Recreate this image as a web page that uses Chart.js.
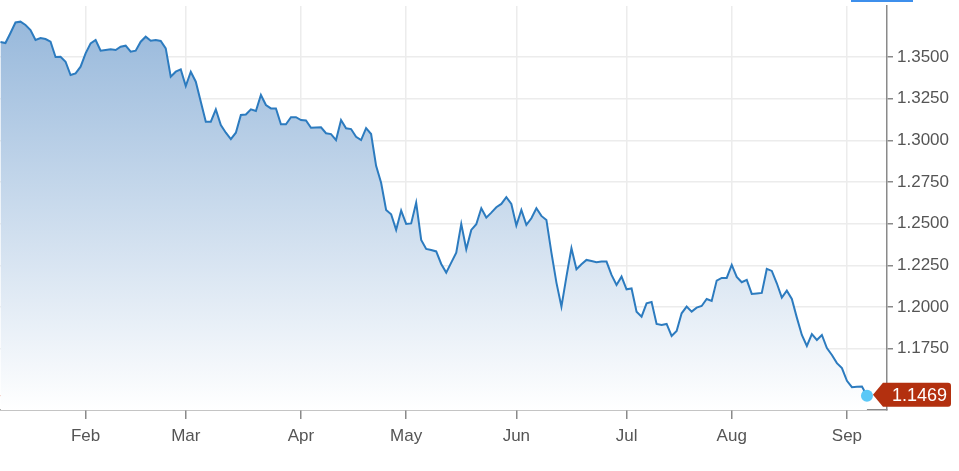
<!DOCTYPE html>
<html>
<head>
<meta charset="utf-8">
<script src="https://cdn.jsdelivr.net/npm/chart.js@4.4.1/dist/chart.umd.min.js"></script>
<style>
  html, body { margin: 0; padding: 0; background: #fff; }
  #wrap { position: relative; width: 959px; height: 471px; }
  #tab { position: absolute; left: 851px; top: 0; width: 62px; height: 2px; background: #3d8fec; }
</style>
</head>
<body>
<div id="wrap">
  <canvas id="fxChart" width="959" height="471"></canvas>
  <div id="tab"></div>
</div>
<script>
// GBP/USD daily closes, one per trading day (7 Jan .. 7 Sep)
const rates = [
  1.3590, 1.3584, 1.3644, 1.3707, 1.3712, 1.3692, 1.3662, 1.3602, 1.3614, 1.3608,
  1.3592, 1.3500, 1.3502, 1.3472, 1.3392, 1.3402, 1.3442, 1.3522, 1.3582, 1.3602,
  1.3538, 1.3542, 1.3546, 1.3542, 1.3562, 1.3568, 1.3532, 1.3538, 1.3592, 1.3622,
  1.3598, 1.3602, 1.3596, 1.3552, 1.3382, 1.3412, 1.3426, 1.3326, 1.3412, 1.3352,
  1.3232, 1.3112, 1.3112, 1.3186, 1.3092, 1.3046, 1.3008, 1.3046, 1.3152, 1.3155,
  1.3186, 1.3176, 1.3272, 1.3212, 1.3192, 1.3192, 1.3097, 1.3097, 1.3139, 1.3139,
  1.3122, 1.3119, 1.3076, 1.3077, 1.3078, 1.3043, 1.3038, 1.3002, 1.3122, 1.3073,
  1.3068, 1.3022, 1.3002, 1.3073, 1.3038, 1.2847, 1.2746, 1.2583, 1.2557, 1.2463,
  1.2579, 1.2499, 1.2502, 1.2627, 1.2403, 1.2349, 1.2343, 1.2334, 1.2259, 1.2207,
  1.2267, 1.2327, 1.2499, 1.2347, 1.2463, 1.2497, 1.2593, 1.2537, 1.2567, 1.2599,
  1.2619, 1.2659, 1.2619, 1.2489, 1.2583, 1.2493, 1.2533, 1.2593, 1.2547, 1.2523,
  1.2327, 1.2147, 1.2003, 1.2183, 1.2353, 1.2227, 1.2257, 1.2283, 1.2277, 1.2269,
  1.2273, 1.2273, 1.2193, 1.2133, 1.2183, 1.2107, 1.2112, 1.1973, 1.1943, 1.2023,
  1.2031, 1.1899, 1.1893, 1.1899, 1.1827, 1.1857, 1.1963, 1.2003, 1.1973, 1.1997,
  1.2007, 1.2049, 1.2037, 1.2159, 1.2175, 1.2175, 1.2253, 1.2181, 1.2149, 1.2163,
  1.2079, 1.2082, 1.2085, 1.2229, 1.2217, 1.2143, 1.2057, 1.2099, 1.2049, 1.1937,
  1.1833, 1.1767, 1.1838, 1.1803, 1.1833, 1.1754, 1.1713, 1.1664, 1.1634, 1.1558,
  1.1520, 1.1522, 1.1524, 1.1469
];

// x axis: month names and the trading-day index where each month starts
const monthLabels = ['Feb', 'Mar', 'Apr', 'May', 'Jun', 'Jul', 'Aug', 'Sep'];
const monthStarts = [17, 37, 60, 81, 103, 125, 146, 169];

// y axis tick values
const yTicks = [1.175, 1.2, 1.225, 1.25, 1.275, 1.3, 1.325, 1.35];

const fontFamily = "'Liberation Sans', Arial, Helvetica, sans-serif";

const lastValuePlugin = {
  id: 'lastValue',
  beforeDatasetsDraw(chart) {
    const { ctx, chartArea, scales } = chart;
    const last = rates.length - 1;
    const x = scales.x.getPixelForValue(last);
    const y = scales.y.getPixelForValue(rates[last]);
    ctx.save();
    ctx.strokeStyle = '#f0bcae';
    ctx.lineWidth = 1;
    ctx.setLineDash([7, 5]);
    ctx.beginPath();
    ctx.moveTo(chartArea.left, y);
    ctx.lineTo(x, y);
    ctx.stroke();
    ctx.restore();
  },
  afterDraw(chart) {
    const { ctx, scales } = chart;
    const last = rates.length - 1;
    const x = scales.x.getPixelForValue(last);
    const y = scales.y.getPixelForValue(rates[last]);
    ctx.save();
    // end point
    ctx.fillStyle = '#5bc8f7';
    ctx.beginPath();
    ctx.arc(x, y, 6, 0, Math.PI * 2);
    ctx.fill();
    // value flag
    const tip = x + 6, left = x + 16, right = 951, top = y - 13, bottom = y + 11, r = 3;
    ctx.fillStyle = '#b3300f';
    ctx.beginPath();
    ctx.moveTo(tip, y - 1);
    ctx.lineTo(left, top);
    ctx.lineTo(right - r, top);
    ctx.quadraticCurveTo(right, top, right, top + r);
    ctx.lineTo(right, bottom - r);
    ctx.quadraticCurveTo(right, bottom, right - r, bottom);
    ctx.lineTo(left, bottom);
    ctx.closePath();
    ctx.fill();
    ctx.fillStyle = '#ffffff';
    ctx.font = '18px ' + fontFamily;
    ctx.textBaseline = 'middle';
    ctx.textAlign = 'left';
    ctx.fillText(rates[last].toFixed(4), left + 9, y);
    ctx.restore();
  }
};

const ctx = document.getElementById('fxChart').getContext('2d');

const fxChart = new Chart(ctx, {
  type: 'line',
  data: {
    datasets: [{
      data: rates.map((v, i) => ({ x: i, y: v })),
      borderColor: '#2c7bbf',
      borderWidth: 2,
      pointRadius: 0,
      tension: 0,
      fill: 'start',
      backgroundColor: (c) => {
        const area = c.chart.chartArea;
        if (!area) return 'rgba(0,0,0,0)';
        const g = c.chart.ctx.createLinearGradient(0, area.top, 0, area.bottom);
        g.addColorStop(0, '#94b6da');
        g.addColorStop(1, '#ffffff');
        return g;
      }
    }]
  },
  options: {
    responsive: false,
    animation: false,
    devicePixelRatio: 1,
    layout: { padding: { top: 6, left: 0, right: 0, bottom: 0 } },
    plugins: {
      legend: { display: false },
      tooltip: { enabled: false }
    },
    scales: {
      x: {
        type: 'linear',
        min: -0.09,
        max: 177,
        afterBuildTicks: s => { s.ticks = monthStarts.map(v => ({ value: v })); },
        afterFit: s => { s.height = 61; s.paddingLeft = 0; s.paddingRight = 0; },
        grid: { color: '#ececec', lineWidth: 1.5, tickColor: '#8a8a8a', tickLength: 9 },
        border: { color: '#8a8a8a', width: 1.5 },
        ticks: {
          color: '#555',
          font: { size: 17, family: fontFamily },
          padding: 7,
          maxRotation: 0,
          autoSkip: false,
          callback: v => monthLabels[monthStarts.indexOf(v)] ?? ''
        }
      },
      y: {
        position: 'right',
        min: 1.1383,
        max: 1.3806,
        afterBuildTicks: s => { s.ticks = yTicks.map(v => ({ value: v })); },
        afterFit: s => { s.width = 72; s.paddingTop = 0; s.paddingBottom = 0; },
        grid: { color: '#ececec', lineWidth: 1.5, tickColor: '#8a8a8a', tickLength: 6 },
        border: { color: '#8a8a8a', width: 1.5 },
        ticks: {
          color: '#555',
          font: { size: 17, family: fontFamily },
          padding: 4,
          callback: v => v.toFixed(4)
        }
      }
    }
  },
  plugins: [lastValuePlugin]
});
</script>
</body>
</html>
